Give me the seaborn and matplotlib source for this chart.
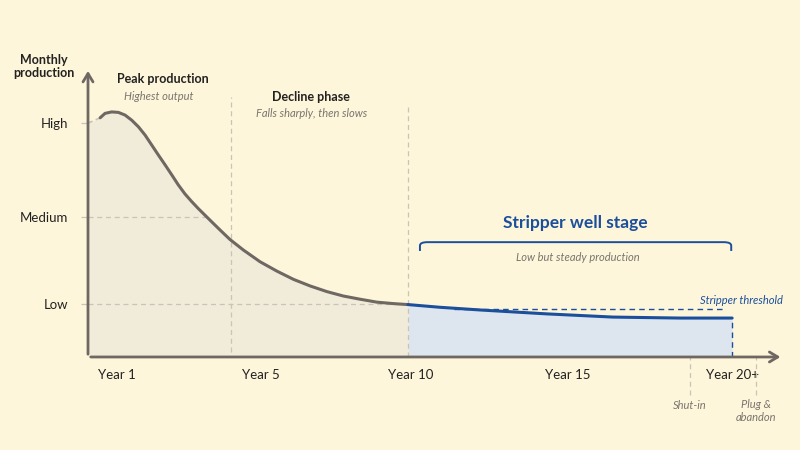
import numpy as np
import matplotlib
matplotlib.use("Agg")
import matplotlib.pyplot as plt
from matplotlib.path import Path
from matplotlib.patches import PathPatch
import pandas as pd
import seaborn as sns

## Daten (x = Jahre, y = Produktion in % vom Peak)
decline_years = [-0.53, -0.13, 0.03, 0.25, 0.47, 0.69, 0.91, 1.13, 1.35, 1.57, 1.79, 2.01, 2.23, 2.44,
                 2.66, 2.88, 3.10, 3.32, 3.54, 3.82, 4.14, 4.58, 5.13, 5.68, 6.23, 6.78, 7.33, 7.87,
                 8.42, 8.97, 9.52, 10.0]
decline_prod = [95.5, 97.7, 99.5, 100.1, 99.9, 98.8, 96.7, 94.0, 90.6, 86.5, 82.4, 78.4, 74.3, 70.3,
                66.6, 63.5, 60.6, 57.9, 55.2, 51.8, 48.0, 43.7, 38.9, 35.1, 31.7, 29.0, 26.7, 24.9,
                23.6, 22.4, 21.8, 21.4]
stripper_years = [10.0, 11.05, 12.37, 14.57, 16.74, 18.95, 20.66]
stripper_prod = [21.4, 20.3, 19.2, 17.6, 16.3, 15.9, 15.9]
threshold = 19.4

level_names = ["Low", "Medium", "High"]
level_values = [21.6, 57.0, 95.5]
year_labels = ["Year 1", "Year 5", "Year 10", "Year 15", "Year 20+"]
year_pos = [0.43, 5.16, 10.07, 15.26, 20.66]
phase_lines = [4.18, 10.0]
end_events = ["Shut-in", "Plug &\nabandon"]
end_pos = [19.28, 21.45]

decline = pd.DataFrame({"year": decline_years, "prod": decline_prod})
stripper = pd.DataFrame({"year": stripper_years, "prod": stripper_prod})

## Farben
BG = "#FEF6DA"
GREY = "#6F6862"
GREY_FILL = "#F1EBDA"
BLUE = "#1B4F9C"
BLUE_FILL = "#DDE6EF"
LIGHT = "#C9C3B8"
TXT = "#222222"
SUB = "#7A746E"

sns.set_theme(style="white")
plt.rcParams["font.family"] = ["Lato", "DejaVu Sans"]

fig = plt.figure(figsize=(8, 4.5), dpi=100, facecolor=BG)
ax = fig.add_axes([0.11, 0.2067, 0.869, 0.642])
ax.set_facecolor(BG)
x0, x1, y0, y1 = -0.53, 22.34, 0, 118
ax.set_xlim(x0, x1)
ax.set_ylim(y0, y1)
for s in ax.spines.values():
    s.set_visible(False)

# Flächen
ax.fill_between(decline["year"], decline["prod"], color=GREY_FILL, lw=0, zorder=1)
ax.fill_between(stripper["year"], stripper["prod"], color=BLUE_FILL, lw=0, zorder=1)

# Hilfslinien
dash = (0, (4, 3))
ax.hlines(level_values[1], x0, 3.36, colors=LIGHT, lw=0.9, ls=dash, zorder=2)
ax.hlines(level_values[0], x0, 10.0, colors=LIGHT, lw=0.9, ls=dash, zorder=2)
ax.vlines(phase_lines[0], 2, 106, colors=LIGHT, lw=0.9, ls=dash, zorder=2)
ax.vlines(phase_lines[1], 0, 103, colors=LIGHT, lw=0.9, ls=dash, zorder=2)
for p in end_pos:
    ax.vlines(p, -15.5, 0, colors=LIGHT, lw=0.9, ls=dash, zorder=2, clip_on=False)

# Kurven
sns.lineplot(data=decline.iloc[:2], x="year", y="prod", color=LIGHT, lw=1.2, ls=(0, (3, 2)),
             ax=ax, zorder=3, sort=False)
sns.lineplot(data=decline.iloc[1:], x="year", y="prod", color=GREY, lw=2.2, ax=ax, zorder=4, sort=False)
ax.hlines(threshold, 11.5, 20.46, colors=BLUE, lw=1.0, ls=dash, zorder=3)
sns.lineplot(data=stripper, x="year", y="prod", color=BLUE, lw=2.2, ax=ax, zorder=4, sort=False)
ax.vlines(stripper_years[-1], 0, stripper_prod[-1], colors=BLUE, lw=1.0, ls=dash, zorder=3)

# Achsen mit Pfeilen
ax.annotate("", xy=(x1, 0), xytext=(x0, 0), annotation_clip=False,
            arrowprops=dict(arrowstyle="->,head_length=0.5,head_width=0.3", color=GREY, lw=2))
ax.annotate("", xy=(x0, y1), xytext=(x0, 0), annotation_clip=False,
            arrowprops=dict(arrowstyle="->,head_length=0.5,head_width=0.3", color=GREY, lw=2))

ax.set_xlabel("")
ax.set_ylabel("")
ax.set_yticks(level_values, level_names)
ax.set_xticks(year_pos, year_labels)
ax.tick_params(axis="y", length=5, width=0.9, color=LIGHT, pad=9, labelsize=9.5, labelcolor=TXT, left=True)
ax.tick_params(axis="x", length=0, pad=9, labelsize=9.5, labelcolor=TXT)

# Texte
fig.text(0.055, 0.853, "Monthly\nproduction", ha="center", va="center", fontsize=9,
         fontweight="bold", color=TXT, linespacing=1.1)
ax.text(1.94, 113.5, "Peak production", ha="center", va="center", fontsize=9, fontweight="bold", color=TXT)
ax.text(1.81, 106.5, "Highest output", ha="center", va="center", fontsize=8, style="italic", color=SUB)
ax.text(6.81, 106.1, "Decline phase", ha="center", va="center", fontsize=9, fontweight="bold", color=TXT)
ax.text(6.84, 99.6, "Falls sharply, then slows", ha="center", va="center", fontsize=8, style="italic", color=SUB)
ax.text(15.49, 54.7, "Stripper well stage", ha="center", va="center", fontsize=12.5, fontweight="bold", color=BLUE)
ax.text(15.59, 40.8, "Low but steady production", ha="center", va="center", fontsize=8, style="italic", color=SUB)
ax.text(22.34, 22.9, "Stripper threshold", ha="right", va="center", fontsize=8, style="italic", color=BLUE)
ax.text(end_pos[0], -19.8, end_events[0], ha="center", va="center", fontsize=8, style="italic", color=SUB)
ax.text(end_pos[1], -22.2, end_events[1], ha="center", va="center", fontsize=8, style="italic", color=SUB,
        linespacing=1.2)

# Klammer über der Stripper-Phase
bl, br, btop, bend, r = 10.39, 20.63, 46.9, 43.3, 0.25
verts = [(bl, bend), (bl, btop - 1.4), (bl, btop), (bl + r, btop), (br - r, btop),
         (br, btop), (br, btop - 1.4), (br, bend)]
codes = [Path.MOVETO, Path.LINETO, Path.CURVE3, Path.CURVE3, Path.LINETO,
         Path.CURVE3, Path.CURVE3, Path.LINETO]
ax.add_patch(PathPatch(Path(verts, codes), fill=False, edgecolor=BLUE, lw=1.4, zorder=4))

fig.savefig("out.png", dpi=100, facecolor=BG)
